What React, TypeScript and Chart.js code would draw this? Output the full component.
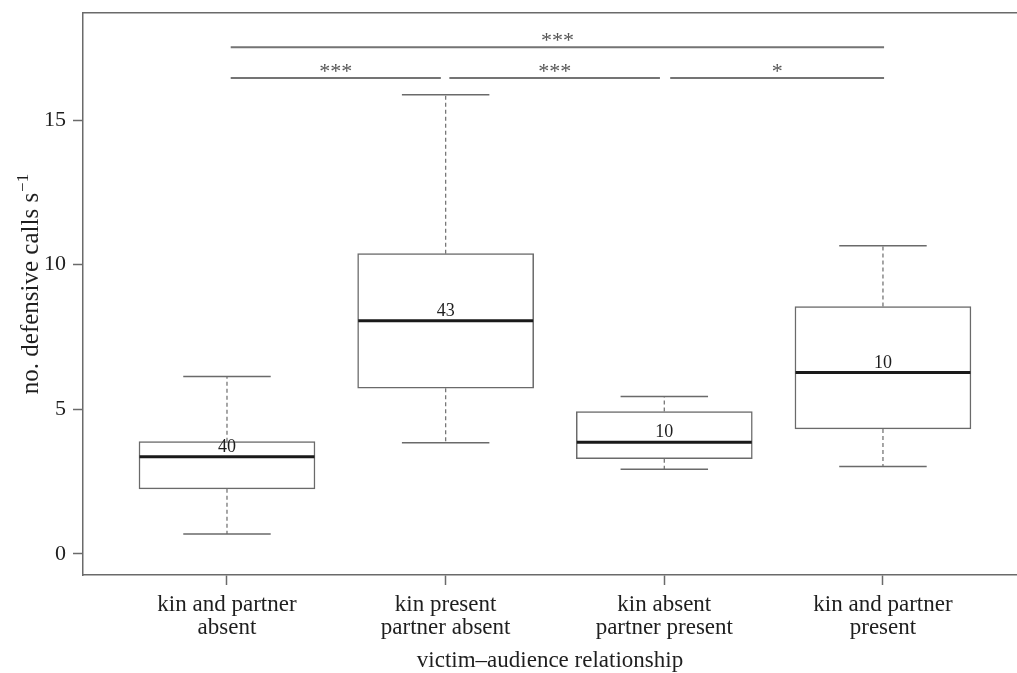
import React, { useEffect, useRef } from "react";
import { Chart, registerables } from "chart.js";

Chart.register(...registerables);

// ---- data ----
const categories: string[][] = [
  ["kin and partner", "absent"],
  ["kin present", "partner absent"],
  ["kin absent", "partner present"],
  ["kin and partner", "present"],
];
const positions = [1, 2, 3, 4];
const whiskerLow = [0.69, 3.84, 2.93, 3.02];
const q1 = [2.25, 5.73, 3.29, 4.32];
const median = [3.36, 8.06, 3.86, 6.27];
const q3 = [3.88, 10.38, 4.92, 8.55];
const whiskerHigh = [6.13, 15.87, 5.44, 10.65];
const sampleSizes = ["40", "43", "10", "10"];
const yTicks = [0, 5, 10, 15];

const sigStart = [1.017, 1.017, 2.017, 3.027];
const sigEnd = [4.005, 1.978, 2.98, 4.005];
const sigLevel = [17.52, 16.45, 16.45, 16.45];
const sigLabels = ["***", "***", "***", "*"];

const xTitle = "victim\u2013audience relationship";
const yTitleMain = "no. defensive calls s";
const yTitleSup = "\u22121";

// ---- styles ----
const FONT = '"Liberation Serif", "DejaVu Serif", serif';
const AXIS_COLOR = "#6a6a6a";
const BOX_COLOR = "#6a6a6a";
const TEXT_COLOR = "#1e1e1e";
const BOX_HALF = 0.4;
const CAP_HALF = 0.2;

function segments(pairs: { x0: number; y0: number; x1: number; y1: number }[]) {
  const out: { x: number; y: number | null }[] = [];
  pairs.forEach((p) => {
    out.push({ x: p.x0, y: p.y0 });
    out.push({ x: p.x1, y: p.y1 });
    out.push({ x: p.x1, y: null });
  });
  return out;
}

const annotationPlugin = {
  id: "annotations",
  afterDatasetsDraw(chart: any) {
    const { ctx, scales, chartArea } = chart;
    const xs = scales.x;
    const ys = scales.y;
    ctx.save();
    // sample sizes above medians
    ctx.fillStyle = TEXT_COLOR;
    ctx.font = `18px ${FONT}`;
    ctx.textAlign = "center";
    ctx.textBaseline = "alphabetic";
    positions.forEach((p, i) => {
      ctx.fillText(sampleSizes[i], xs.getPixelForValue(p), ys.getPixelForValue(median[i]) - 5);
    });
    // significance stars
    ctx.fillStyle = "#555";
    ctx.font = `22px ${FONT}`;
    sigLabels.forEach((lab, i) => {
      const cx = xs.getPixelForValue((sigStart[i] + sigEnd[i]) / 2);
      ctx.fillText(lab, cx, ys.getPixelForValue(sigLevel[i]));
    });
    // x title
    ctx.fillStyle = TEXT_COLOR;
    ctx.font = `23px ${FONT}`;
    ctx.fillText(xTitle, (chartArea.left + chartArea.right) / 2, 667);
    // y title with superscript
    ctx.font = `25px ${FONT}`;
    const w1 = ctx.measureText(yTitleMain).width;
    ctx.font = `17px ${FONT}`;
    const w2 = ctx.measureText(yTitleSup).width;
    const total = w1 + w2 + 1;
    ctx.translate(38, 284);
    ctx.rotate(-Math.PI / 2);
    ctx.textAlign = "left";
    ctx.font = `25px ${FONT}`;
    ctx.fillText(yTitleMain, -total / 2, 0);
    ctx.font = `17px ${FONT}`;
    ctx.fillText(yTitleSup, -total / 2 + w1 + 1, -10);
    ctx.restore();
  },
};

export default function App() {
  const canvasRef = useRef<HTMLCanvasElement | null>(null);

  useEffect(() => {
    if (!canvasRef.current) return;
    const boxData = positions.map((x, i) => ({ x, y: [q1[i], q3[i]] }));
    const medianData = segments(
      positions.map((x, i) => ({ x0: x - BOX_HALF, y0: median[i], x1: x + BOX_HALF, y1: median[i] }))
    );
    const whiskerData = segments(
      positions.flatMap((x, i) => [
        { x0: x, y0: q3[i], x1: x, y1: whiskerHigh[i] },
        { x0: x, y0: q1[i], x1: x, y1: whiskerLow[i] },
      ])
    );
    const capData = segments(
      positions.flatMap((x, i) => [
        { x0: x - CAP_HALF, y0: whiskerHigh[i], x1: x + CAP_HALF, y1: whiskerHigh[i] },
        { x0: x - CAP_HALF, y0: whiskerLow[i], x1: x + CAP_HALF, y1: whiskerLow[i] },
      ])
    );
    const sigData = segments(
      sigStart.map((s, i) => ({ x0: s, y0: sigLevel[i], x1: sigEnd[i], y1: sigLevel[i] }))
    );

    const lineCommon = { pointRadius: 0, pointHoverRadius: 0, fill: false, spanGaps: false, tension: 0 };

    const chart = new Chart(canvasRef.current, {
      type: "line",
      data: {
        datasets: [
          {
            type: "bar",
            data: boxData as any,
            backgroundColor: "#ffffff",
            borderColor: BOX_COLOR,
            borderWidth: 1.5,
            borderSkipped: false,
            barThickness: 176,
            grouped: false,
            order: 5,
          } as any,
          {
            data: whiskerData as any,
            borderColor: "#777",
            borderWidth: 1.3,
            borderDash: [4, 3],
            order: 4,
            ...lineCommon,
          },
          {
            data: capData as any,
            borderColor: BOX_COLOR,
            borderWidth: 1.5,
            order: 3,
            ...lineCommon,
          },
          {
            data: medianData as any,
            borderColor: "#1a1a1a",
            borderWidth: 3,
            borderCapStyle: "butt",
            order: 1,
            ...lineCommon,
          },
          {
            data: sigData as any,
            borderColor: "#747474",
            borderWidth: 2,
            order: 2,
            ...lineCommon,
          },
        ],
      },
      options: {
        animation: false,
        responsive: false,
        maintainAspectRatio: false,
        events: [],
        layout: { padding: 0 },
        plugins: { legend: { display: false }, tooltip: { enabled: false }, title: { display: false } },
        scales: {
          x: {
            type: "linear",
            position: "bottom",
            min: 0.3415,
            max: 4.613,
            offset: false,
            afterFit: (s: any) => {
              s.height = 98;
              s.paddingLeft = 0;
              s.paddingRight = 0;
            },
            afterBuildTicks: (s: any) => {
              s.ticks = positions.map((v) => ({ value: v }));
            },
            ticks: {
              autoSkip: false,
              maxRotation: 0,
              minRotation: 0,
              padding: 9,
              color: TEXT_COLOR,
              font: { family: FONT, size: 23, lineHeight: 0.97 },
              callback: (_v: any, i: number) => categories[i],
            },
            grid: {
              display: true,
              offset: false,
              drawOnChartArea: false,
              drawTicks: true,
              tickLength: 10,
              tickColor: AXIS_COLOR,
              tickWidth: 1.5,
            },
            border: { display: true, color: AXIS_COLOR, width: 1.5 },
          },
          xTop: {
            type: "linear",
            position: "top",
            min: 0.3415,
            max: 4.613,
            offset: false,
            afterFit: (s: any) => {
              s.height = 13;
              s.paddingLeft = 0;
              s.paddingRight = 0;
            },
            ticks: { display: false },
            grid: { display: true, offset: false, drawOnChartArea: false, drawTicks: false },
            border: { display: true, color: AXIS_COLOR, width: 1.5 },
          },
          y: {
            type: "linear",
            min: -0.73,
            max: 18.7,
            afterFit: (s: any) => {
              s.width = 83;
              s.paddingTop = 0;
              s.paddingBottom = 0;
            },
            afterBuildTicks: (s: any) => {
              s.ticks = yTicks.map((v) => ({ value: v }));
            },
            ticks: {
              padding: 7,
              color: TEXT_COLOR,
              font: { family: FONT, size: 22 },
              callback: (v: any) => String(v),
            },
            grid: {
              display: true,
              drawOnChartArea: false,
              drawTicks: true,
              tickLength: 10,
              tickColor: AXIS_COLOR,
              tickWidth: 1.5,
            },
            border: { display: true, color: AXIS_COLOR, width: 1.5 },
          },
        },
      } as any,
      plugins: [annotationPlugin],
    });
    return () => chart.destroy();
  }, []);

  return (
    <div style={{ position: "fixed", left: 0, top: 0, width: 1017, height: 673, background: "#fff" }}>
      <canvas ref={canvasRef} width={1017} height={673} style={{ display: "block" }} />
    </div>
  );
}
